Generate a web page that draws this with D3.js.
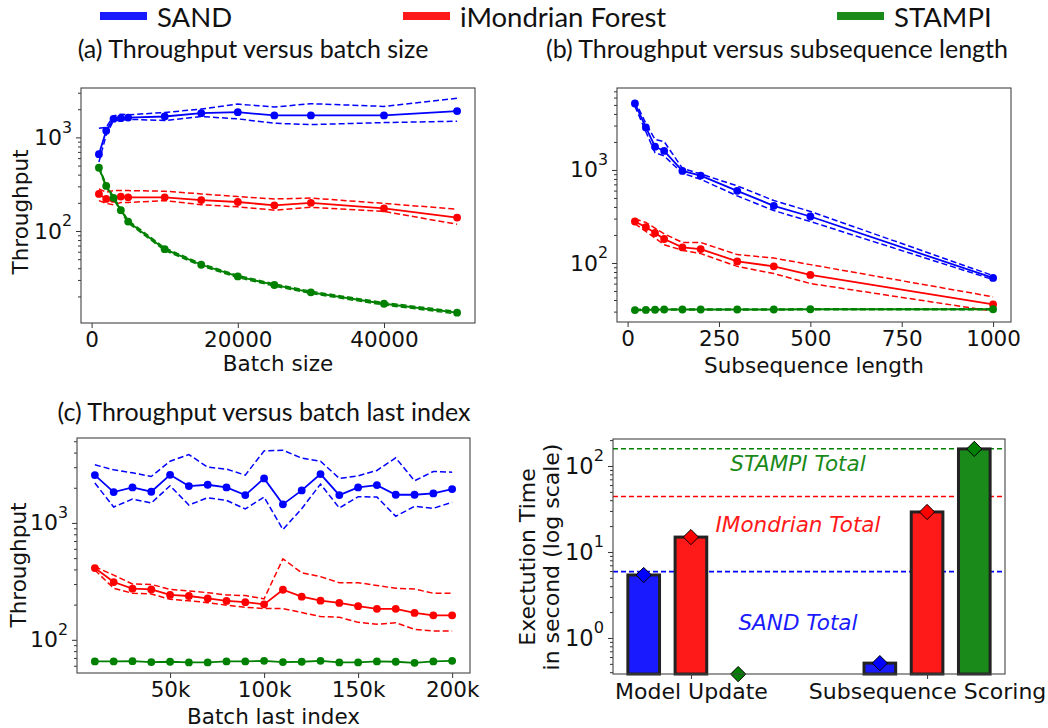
<!DOCTYPE html>
<html>
<head>
<meta charset="utf-8">
<script src="https://cdn.jsdelivr.net/npm/d3@7"></script>
<style>
  html, body { margin: 0; padding: 0; background: #fff; }
  svg { display: block; }
</style>
</head>
<body>
<svg id="fig" width="1048" height="728"></svg>
<script>
// ---------- data ----------
const methods = ["SAND", "iMondrian Forest", "STAMPI"];
const methodColors = ["#1a1aff", "#ff1a1a", "#1a8a1a"];
const lineColors = ["#0000ff", "#ff0000", "#008000"];

// (a) throughput vs batch size
const batchSizes = [1000, 2000, 3000, 4000, 5000, 10000, 15000, 20000, 25000, 30000, 40000, 50000];
const sandBatch    = [661, 1180, 1578, 1604, 1630, 1672, 1816, 1861, 1715, 1715, 1715, 1908];
const sandBatchHi  = [1250, 1280, 1700, 1771, 1742, 1846, 2005, 2270, 2108, 2291, 2143, 2614];
const sandBatchLo  = [546, 1060, 1513, 1513, 1563, 1513, 1671, 1577, 1416, 1370, 1440, 1488];
const imfBatch     = [249, 220, 220, 233, 229, 229, 214, 204, 188, 200, 174, 139];
const imfBatchHi   = [282, 259, 270, 270, 270, 266, 249, 233, 220, 225, 197, 171];
const imfBatchLo   = [211, 197, 191, 202, 202, 211, 191, 181, 167, 179, 162, 118];
const stampiBatch   = [474, 303, 226, 167, 126, 64, 43.6, 32.7, 26.5, 22.1, 16.7, 13.4];
const stampiBatchHi = [490, 312, 232, 172, 130, 66, 44.8, 33.6, 27.2, 22.7, 17.2, 13.8];
const stampiBatchLo = [460, 295, 220, 162, 122, 62, 42.4, 31.8, 25.8, 21.5, 16.2, 13.0];

// (b) throughput vs subsequence length
const subLengths = [20, 50, 75, 100, 150, 200, 300, 400, 500, 1000];
const sandSub    = [5180, 2864, 1778, 1600, 975, 869, 596, 411, 316, 69];
const sandSubHi  = [5530, 3162, 2131, 2015, 1042, 906, 674, 469, 358, 73.1];
const sandSubLo  = [4850, 2576, 1534, 1413, 921, 794, 526, 366, 279, 66.3];
const imfSub     = [279, 243, 210, 181, 147, 141, 104, 92, 74.4, 35.8];
const imfSubHi   = [296, 273, 237, 206, 166, 166, 123, 113, 96, 43.3];
const imfSubLo   = [264, 218, 185, 157, 137, 126, 92, 76.9, 60.1, 30.3];
const stampiSub   = [31.2, 31.3, 31.4, 31.6, 31.6, 31.6, 31.6, 31.6, 31.8, 31.8];
const stampiSubHi = [31.7, 31.8, 31.9, 32.0, 32.0, 32.0, 32.0, 32.0, 32.2, 32.2];
const stampiSubLo = [30.8, 30.9, 31.0, 31.2, 31.2, 31.2, 31.2, 31.2, 31.4, 31.4];

// (c) throughput vs batch last index
const lastIndex = [10000, 20000, 30000, 40000, 50000, 60000, 70000, 80000, 90000, 100000,
                   110000, 120000, 130000, 140000, 150000, 160000, 170000, 180000, 190000, 200000];
const sandIdx   = [2565, 1837, 2014, 1849, 2582, 2066, 2122, 2014, 1732, 2403,
                   1442, 1898, 2616, 1732, 2014, 2108, 1743, 1743, 1790, 1948];
const sandIdxHi = [3141, 2848, 2685, 2498, 3375, 3848, 3000, 2886, 2565, 4134,
                   4190, 3580, 3375, 2403, 2531, 2812, 3604, 2296, 2757, 2721];
const sandIdxLo = [2193, 1369, 1601, 1480, 2080, 1423, 1644, 1560, 1316, 1665,
                   877, 1325, 2149, 1342, 1676, 1665, 1140, 1387, 1334, 1500];
const imfIdx    = [411, 312, 274, 270, 242, 237, 226, 215, 210, 201,
                   268, 234, 216, 207, 194, 184, 184, 170, 162, 162];
const imfIdxHi  = [422, 358, 300, 298, 270, 262, 253, 242, 239, 224,
                   493, 375, 347, 308, 308, 292, 276, 272, 250, 250];
const imfIdxLo  = [395, 276, 250, 247, 222, 216, 208, 198, 190, 185,
                   185, 171, 158, 156, 141, 136, 140, 123, 119, 119];
const stampiIdx   = [65.3, 65.3, 65.7, 64.5, 64.9, 64.0, 64.0, 65.3, 65.3, 66.1,
                     64.5, 64.9, 66.1, 64.0, 64.0, 65.3, 64.9, 63.6, 65.3, 66.1];

// (d) execution time breakdown
const phases = ["Model Update", "Subsequence Scoring"];
const modelUpdateTime = [5.4, 14.9, 0.38];
const scoringTime     = [0.51, 29.2, 158];
const totalLabels = ["SAND Total", "IMondrian Total", "STAMPI Total"];
const totalLabelAt = [1.24, 17.1, 87];

// ---------- helpers ----------
const svg = d3.select("#fig");
const TICK_FONT = "DejaVu Sans, sans-serif";
const TITLE_FONT = "Lato, 'Open Sans', sans-serif";

function logTickSets(domain) {
  const majors = [], minors = [];
  const e0 = Math.floor(Math.log10(domain[0])), e1 = Math.ceil(Math.log10(domain[1]));
  for (let e = e0; e <= e1; e++) {
    for (let k = 1; k <= 9; k++) {
      const v = k * Math.pow(10, e);
      if (v >= domain[0] && v <= domain[1]) (k === 1 ? majors : minors).push(v);
    }
  }
  return { majors, minors };
}

function styleAxis(g, fontSize) {
  g.selectAll(".domain").remove();
  g.selectAll(".tick line").attr("stroke", "#333").attr("stroke-width", 1);
  g.selectAll(".tick text").attr("fill", "#111").attr("font-family", TICK_FONT).attr("font-size", fontSize);
}

function logYAxis(g, y, domain, fontSize) {
  const { majors, minors } = logTickSets(domain);
  const minorG = g.append("g").call(d3.axisLeft(y).tickValues(minors).tickSize(3).tickFormat(""));
  styleAxis(minorG, fontSize);
  const majorG = g.append("g").call(d3.axisLeft(y).tickValues(majors).tickSize(5).tickPadding(4).tickFormat(""));
  styleAxis(majorG, fontSize);
  majorG.selectAll(".tick text").each(function (d) {
    const t = d3.select(this);
    t.attr("dy", "0.32em");
    t.append("tspan").text("10");
    t.append("tspan").attr("font-size", fontSize * 0.72).attr("dy", "-0.78em")
      .text(Math.round(Math.log10(d)));
  });
}

function frame(g, w, h) {
  g.append("rect").attr("width", w).attr("height", h)
    .attr("fill", "none").attr("stroke", "#444").attr("stroke-width", 1.1);
}

function throughputPanel(cfg) {
  const g = svg.append("g").attr("transform", `translate(${cfg.left},${cfg.top})`);
  const w = cfg.right - cfg.left, h = cfg.bottom - cfg.top;
  const x = d3.scaleLinear().domain(cfg.xDomain).range([0, w]);
  const y = d3.scaleLog().domain(cfg.yDomain).range([h, 0]);

  const plot = g.append("g");
  const line = d3.line().x((d) => x(d[0])).y((d) => y(d[1]));
  cfg.series.forEach((s) => {
    [s.hi, s.lo].forEach((band) => {
      if (!band) return;
      plot.append("path").datum(cfg.xs.map((v, i) => [v, band[i]]))
        .attr("d", line).attr("fill", "none").attr("stroke", s.color)
        .attr("stroke-width", 1.5).attr("stroke-dasharray", "6,3");
    });
    const pts = cfg.xs.map((v, i) => [v, s.mean[i]]);
    plot.append("path").datum(pts).attr("d", line).attr("fill", "none")
      .attr("stroke", s.color).attr("stroke-width", 1.8);
    plot.selectAll(null).data(pts).enter().append("circle")
      .attr("cx", (d) => x(d[0])).attr("cy", (d) => y(d[1])).attr("r", 3.9)
      .attr("fill", s.color);
  });

  const xAxis = g.append("g").attr("transform", `translate(0,${h})`)
    .call(d3.axisBottom(x).tickValues(cfg.xTicks).tickSize(5).tickPadding(4).tickFormat(cfg.xFormat));
  styleAxis(xAxis, 21.5);
  logYAxis(g.append("g"), y, cfg.yDomain, 22);
  frame(g, w, h);

  svg.append("text").attr("x", (cfg.left + cfg.right) / 2).attr("y", cfg.xLabelY)
    .attr("text-anchor", "middle").attr("font-family", TICK_FONT).attr("font-size", 21.5)
    .attr("fill", "#111").text(cfg.xLabel);
  if (cfg.yLabel) {
    svg.append("text").attr("transform", `translate(${cfg.yLabelX},${cfg.yLabelY}) rotate(-90)`)
      .attr("text-anchor", "middle").attr("dy", "0.35em").attr("font-family", TICK_FONT)
      .attr("font-size", 21.5).attr("fill", "#111").text(cfg.yLabel);
  }
  svg.append("text").attr("x", cfg.titleX).attr("y", cfg.titleY).attr("text-anchor", "middle")
    .attr("font-family", TITLE_FONT).attr("font-size", 25).attr("fill", "#111").text(cfg.title);
}

// ---------- legend ----------
const legendX = [100, 403, 837];
methods.forEach((m, i) => {
  svg.append("line").attr("x1", legendX[i]).attr("x2", legendX[i] + 47)
    .attr("y1", 16).attr("y2", 16).attr("stroke", methodColors[i]).attr("stroke-width", 8);
  svg.append("text").attr("x", legendX[i] + 57).attr("y", 27)
    .attr("font-family", TITLE_FONT).attr("font-size", 27.5).attr("fill", "#111").text(m);
});

// ---------- panels (a)-(c) ----------
throughputPanel({
  left: 81, right: 475, top: 88, bottom: 323,
  xDomain: [-1450, 52450], yDomain: [10.4, 3370],
  xs: batchSizes, xTicks: [0, 20000, 40000], xFormat: d3.format("d"),
  series: [
    { color: lineColors[0], mean: sandBatch, hi: sandBatchHi, lo: sandBatchLo },
    { color: lineColors[1], mean: imfBatch, hi: imfBatchHi, lo: imfBatchLo },
    { color: lineColors[2], mean: stampiBatch, hi: stampiBatchHi, lo: stampiBatchLo },
  ],
  xLabel: "Batch size", xLabelY: 371, yLabel: "Throughput", yLabelX: 20, yLabelY: 212,
  title: "(a) Throughput versus batch size", titleX: 253, titleY: 58,
});

throughputPanel({
  left: 617, right: 1011, top: 88, bottom: 322,
  xDomain: [-29, 1049], yDomain: [23.2, 7600],
  xs: subLengths, xTicks: [0, 250, 500, 750, 1000], xFormat: d3.format("d"),
  series: [
    { color: lineColors[0], mean: sandSub, hi: sandSubHi, lo: sandSubLo },
    { color: lineColors[1], mean: imfSub, hi: imfSubHi, lo: imfSubLo },
    { color: lineColors[2], mean: stampiSub, hi: stampiSubHi, lo: stampiSubLo },
  ],
  xLabel: "Subsequence length", xLabelY: 373,
  title: "(b) Throughput versus subsequence length", titleX: 777, titleY: 58,
});

throughputPanel({
  left: 77, right: 470, top: 438, bottom: 673,
  xDomain: [500, 209500], yDomain: [52, 5330],
  xs: lastIndex, xTicks: [50000, 100000, 150000, 200000], xFormat: (d) => d / 1000 + "k",
  series: [
    { color: lineColors[0], mean: sandIdx, hi: sandIdxHi, lo: sandIdxLo },
    { color: lineColors[1], mean: imfIdx, hi: imfIdxHi, lo: imfIdxLo },
    { color: lineColors[2], mean: stampiIdx },
  ],
  xLabel: "Batch last index", xLabelY: 724, yLabel: "Throughput", yLabelX: 18, yLabelY: 565,
  title: "(c) Throughput versus batch last index", titleX: 264, titleY: 421,
});

// ---------- panel (d) ----------
(function () {
  const left = 613, right = 1005, top = 439, bottom = 674;
  const w = right - left, h = bottom - top;
  const g = svg.append("g").attr("transform", `translate(${left},${top})`);
  const yDomain = [0.381, 206];
  const x = d3.scaleLinear().domain([-0.33, 1.33]).range([0, w]);
  const y = d3.scaleLog().domain(yDomain).range([h, 0]);
  const offset = 0.2, barW = x(0.134) - x(0);

  const groups = [modelUpdateTime, scoringTime];
  const totals = methods.map((m, i) => modelUpdateTime[i] + scoringTime[i]);

  // total reference lines
  totals.forEach((t, i) => {
    g.append("line").attr("x1", 0).attr("x2", w).attr("y1", y(t)).attr("y2", y(t))
      .attr("stroke", lineColors[i]).attr("stroke-width", 1.6).attr("stroke-dasharray", "5,3");
  });

  groups.forEach((vals, gi) => {
    vals.forEach((v, mi) => {
      const cx = x(gi + (mi - 1) * offset);
      if (v > yDomain[0] * 1.01) {
        g.append("rect").attr("x", cx - barW / 2).attr("y", y(v))
          .attr("width", barW).attr("height", h - y(v))
          .attr("fill", methodColors[mi]).attr("stroke", "#222").attr("stroke-width", 3);
      }
    });
  });
  groups.forEach((vals, gi) => {
    vals.forEach((v, mi) => {
      const cx = x(gi + (mi - 1) * offset), cy = y(v), r = 7.6;
      g.append("path").attr("d", `M${cx},${cy - r}L${cx + r},${cy}L${cx},${cy + r}L${cx - r},${cy}Z`)
        .attr("fill", lineColors[mi]).attr("stroke", "#000").attr("stroke-width", 1);
    });
  });

  // total labels
  totalLabels.forEach((t, i) => {
    g.append("text").attr("x", 798 - left).attr("y", y(totalLabelAt[i])).attr("text-anchor", "middle")
      .attr("font-family", TICK_FONT).attr("font-style", "italic").attr("font-size", 21.5)
      .attr("fill", methodColors[i]).text(t);
  });

  const xAxis = g.append("g").attr("transform", `translate(0,${h})`)
    .call(d3.axisBottom(x).tickValues([0, 1]).tickSize(5).tickPadding(4).tickFormat((d) => phases[d]));
  styleAxis(xAxis, 22);
  logYAxis(g.append("g"), y, yDomain, 22.5);
  frame(g, w, h);

  const yl = svg.append("text").attr("transform", `translate(540,557) rotate(-90)`)
    .attr("text-anchor", "middle").attr("font-family", TICK_FONT).attr("font-size", 22).attr("fill", "#111");
  yl.append("tspan").attr("x", 0).attr("y", -5).text("Exectution Time");
  yl.append("tspan").attr("x", 0).attr("y", 19).text("in second (log scale)");
})();
</script>
</body>
</html>
